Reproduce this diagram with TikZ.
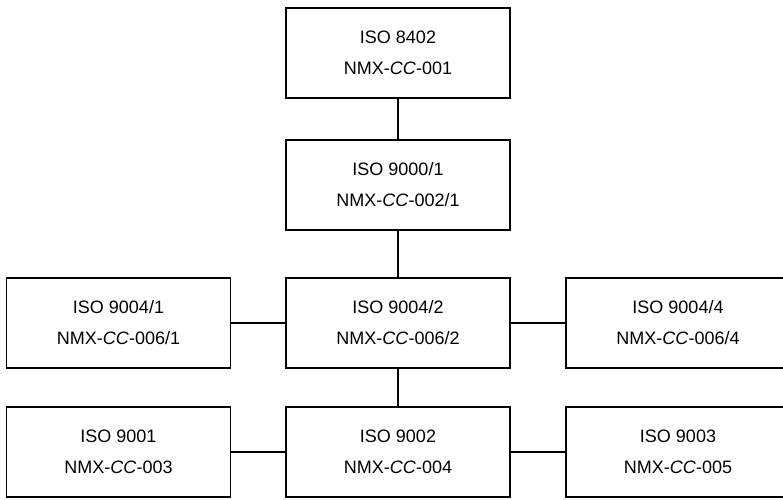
\documentclass[tikz,border=0pt]{standalone}
\usepackage{fontspec}
\setmainfont{Liberation Sans}
\tikzset{
  % one box per standard, ISO line over NMX line
  stdbox/.style={rectangle, draw, line width=1.6pt, minimum width=224pt,
    minimum height=90pt, align=center, inner sep=0pt,
    font=\fontsize{18}{31}\selectfont},
  link/.style={line width=1.6pt}
}

\begin{document}
\begin{tikzpicture}[x=1pt,y=-1pt]

\useasboundingbox (0,0) rectangle (783,499);
\clip (0,0) rectangle (783,499);

\def\leftX{118.5}
\def\midX{398}
\def\rightX{678}

% Centre column
\node[stdbox] (iso8402) at (\midX,53)  {ISO 8402\\NMX-\textit{CC}-001};
\node[stdbox] (iso9000) at (\midX,185) {ISO 9000/1\\NMX-\textit{CC}-002/1};
\node[stdbox] (iso9004b) at (\midX,323) {ISO 9004/2\\NMX-\textit{CC}-006/2};
\node[stdbox] (iso9002) at (\midX,452) {ISO 9002\\NMX-\textit{CC}-004};

% Side boxes
\node[stdbox] (iso9004a) at (\leftX,323)  {ISO 9004/1\\NMX-\textit{CC}-006/1};
\node[stdbox] (iso9004d) at (\rightX,323) {ISO 9004/4\\NMX-\textit{CC}-006/4};
\node[stdbox] (iso9001) at (\leftX,452)   {ISO 9001\\NMX-\textit{CC}-003};
\node[stdbox] (iso9003) at (\rightX,452)  {ISO 9003\\NMX-\textit{CC}-005};

% Links
\draw[link] (iso8402) -- (iso9000);
\draw[link] (iso9000) -- (iso9004b);
\draw[link] (iso9004b) -- (iso9002);
\draw[link] (iso9004a) -- (iso9004b);
\draw[link] (iso9004b) -- (iso9004d);
\draw[link] (iso9001) -- (iso9002);
\draw[link] (iso9002) -- (iso9003);

\end{tikzpicture}
\end{document}
